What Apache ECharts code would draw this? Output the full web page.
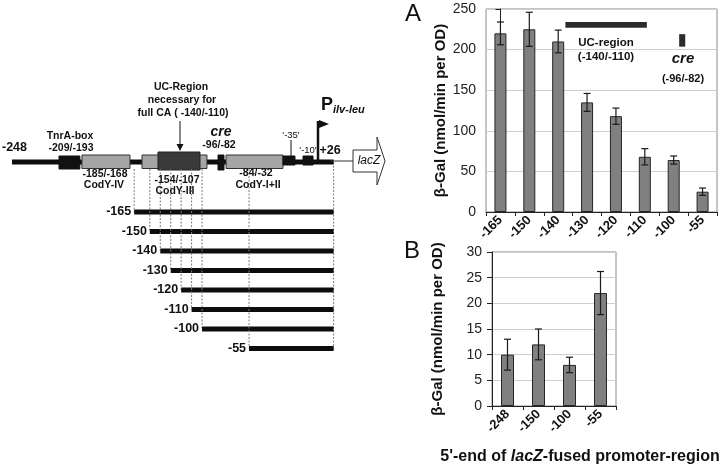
<!DOCTYPE html>
<html><head><meta charset="utf-8">
<script src="https://cdn.jsdelivr.net/npm/echarts@6/dist/echarts.min.js"></script>
<style>html,body{margin:0;padding:0;background:#fff}#c{width:720px;height:468px}</style>
</head><body><div id="c"></div>
<script>
// ---------- data ----------
const catsA = ['-165','-150','-140','-130','-120','-110','-100','-55'];
const valsA = [220, 225, 210, 135, 118, 68, 64, 25];
const errA  = [14, 21, 14, 11, 10, 10, 5, 4.5];
const catsB = ['-248','-150','-100','-55'];
const valsB = [10, 12, 8, 22];
const errB  = [3, 3, 1.5, 4.2];
const deletionStarts = [-165, -150, -140, -130, -120, -110, -100, -55];
const deletionLabels = ['-165','-150','-140','-130','-120','-110','-100','-55'];
const fusionEnd = 26;
// schematic promoter features (drawn positions along the schematic, not to scale)
const features = [
  {kind:'black', from:-237, to:-217},   // TnrA-box
  {kind:'grey',  from:-215, to:-169},   // CodY-IV
  {kind:'grey',  from:-157.5, to:-95.3},// CodY-III
  {kind:'dark',  from:-142.2, to:-102}, // UC-region
  {kind:'cre',   from:-84.7, to:-79},   // cre
  {kind:'grey',  from:-77, to:-22.5},   // CodY-I+II
  {kind:'box',   from:-22.5, to:-11},   // -35
  {kind:'box',   from:-3.3, to:6.3}     // -10
];
// annotations in panel A (category-index units)
const ucRegionA = [2.25, 5.07, 227, 234];
const creA = [6.19, 6.4, 203.6, 219];

const FONT = '"Liberation Sans", Arial, sans-serif';
const chart = echarts.init(document.getElementById('c'), null, {renderer:'canvas'});

const featStyle = {
  black:{y0:156, y1:169, fill:'#111', stroke:'#111'},
  grey: {y0:155, y1:168.5, fill:'#a5a5a5', stroke:'#333'},
  dark: {y0:152, y1:170, fill:'#3a3a3a', stroke:'#222'},
  cre:  {y0:155, y1:170, fill:'#111', stroke:'#111'},
  box:  {y0:156, y1:165, fill:'#111', stroke:'#111'}
};
const ROW0 = 212, ROWSTEP = 19.5;

function errRender(params, api){
  const x = api.value(0);
  const lo = api.coord([x, api.value(1)]);
  const hi = api.coord([x, api.value(2)]);
  const w = 3.5;
  const style = {stroke:'#1a1a1a', lineWidth:1.2};
  return {type:'group', children:[
    {type:'line', shape:{x1:lo[0],y1:lo[1],x2:hi[0],y2:hi[1]}, style},
    {type:'line', shape:{x1:lo[0]-w,y1:lo[1],x2:lo[0]+w,y2:lo[1]}, style},
    {type:'line', shape:{x1:hi[0]-w,y1:hi[1],x2:hi[0]+w,y2:hi[1]}, style}
  ]};
}

function bText(x, y, text, size, opts){
  return Object.assign({type:'text', x:x, y:y, style:Object.assign({text:text, font:(opts&&opts.font)||('bold '+size+'px '+FONT), fill:'#111', align:'center', verticalAlign:'middle'}, (opts&&opts.style)||{})}, {z:10});
}

const axisCommonY = (min,max,interval,gap) => ({
  type:'value', min:min, max:max, interval:interval,
  axisLine:{show:true, lineStyle:{color:'#222', width:1}},
  axisTick:{show:true, length:5, lineStyle:{color:'#222'}},
  axisLabel:{fontSize:14, color:'#222', margin:10, fontFamily:FONT},
  splitLine:{show:true, lineStyle:{color:'#cfcfcf', width:1}},
  name:'β-Gal (nmol/min per OD)', nameLocation:'middle', nameGap:gap,
  nameTextStyle:{fontWeight:'bold', fontSize:15, color:'#111', fontFamily:FONT}
});
const axisCommonX = (data) => ({
  type:'category', data:data,
  axisLine:{lineStyle:{color:'#222', width:1}},
  axisTick:{show:true, alignWithLabel:false, length:4, lineStyle:{color:'#222'}},
  axisLabel:{rotate:45, interval:0, fontWeight:'bold', fontSize:13, color:'#111', margin:6, fontFamily:FONT},
  splitLine:{show:false}
});

const option = {
  animation:false,
  textStyle:{fontFamily:FONT},
  grid:[
    {left:486, top:9, width:231, height:203, show:true, borderColor:'#8a8a8a', borderWidth:1, backgroundColor:'transparent'},
    {left:492, top:252, width:124, height:154, show:true, borderColor:'#8a8a8a', borderWidth:1, backgroundColor:'transparent'},
    {left:12, top:0, width:378, height:468}
  ],
  xAxis:[
    Object.assign(axisCommonX(catsA), {gridIndex:0}),
    Object.assign(axisCommonX(catsB), {gridIndex:1}),
    {type:'value', gridIndex:2, min:-282, max:80, show:false},
    {type:'value', gridIndex:0, min:-0.5, max:7.5, show:false}
  ],
  yAxis:[
    Object.assign(axisCommonY(0,250,50,37), {gridIndex:0}),
    Object.assign(axisCommonY(0,30,5,47), {gridIndex:1}),
    {type:'value', gridIndex:2, min:0, max:468, inverse:true, show:false}
  ],
  series:[
    {type:'bar', xAxisIndex:0, yAxisIndex:0, data:valsA, barWidth:12,
     itemStyle:{color:'#808080', borderColor:'#262626', borderWidth:1}},
    {type:'custom', xAxisIndex:0, yAxisIndex:0, z:3, renderItem:errRender,
     data:valsA.map((v,i)=>[i, v-errA[i], v+errA[i]])},
    {type:'bar', xAxisIndex:1, yAxisIndex:1, data:valsB, barWidth:13,
     itemStyle:{color:'#808080', borderColor:'#262626', borderWidth:1}},
    {type:'custom', xAxisIndex:1, yAxisIndex:1, z:3, renderItem:errRender,
     data:valsB.map((v,i)=>[i, v-errB[i], v+errB[i]])},
    // annotations inside panel A
    {type:'custom', xAxisIndex:3, yAxisIndex:0, z:4, clip:false,
     data:[ucRegionA, creA],
     renderItem:(p, api)=>{
       const a = api.coord([api.value(0), api.value(3)]);
       const b = api.coord([api.value(1), api.value(2)]);
       return {type:'rect', shape:{x:a[0], y:a[1], width:b[0]-a[0], height:b[1]-a[1]}, style:{fill:'#2b2b2b'}};
     }},
    // main promoter line
    {type:'custom', xAxisIndex:2, yAxisIndex:2, z:2, clip:false,
     data:[[-282, fusionEnd]],
     renderItem:(p, api)=>{
       const x0 = api.coord([api.value(0), 0])[0];
       const x1 = api.coord([api.value(1), 0])[0];
       return {type:'rect', shape:{x:x0, y:159.5, width:x1-x0, height:5}, style:{fill:'#0d0d0d'}};
     }},
    // promoter features
    {type:'custom', xAxisIndex:2, yAxisIndex:2, z:3, clip:false,
     data:features.map((f,i)=>[f.from, f.to, i]),
     renderItem:(p, api)=>{
       const f = features[api.value(2)];
       const st = featStyle[f.kind];
       const x0 = api.coord([api.value(0), 0])[0];
       const x1 = api.coord([api.value(1), 0])[0];
       return {type:'rect', shape:{x:x0, y:st.y0, width:x1-x0, height:st.y1-st.y0}, style:{fill:st.fill, stroke:st.stroke, lineWidth:1}};
     }},
    // deletion constructs + guides + labels
    {type:'custom', xAxisIndex:2, yAxisIndex:2, z:4, clip:false,
     data:deletionStarts.map((s,i)=>[s, fusionEnd, i]),
     renderItem:(p, api)=>{
       const i = api.value(2);
       const x0 = api.coord([api.value(0), 0])[0];
       const x1 = api.coord([api.value(1), 0])[0];
       const y = ROW0 + i*ROWSTEP;
       return {type:'group', children:[
         {type:'line', shape:{x1:x0, y1:169, x2:x0, y2:y}, style:{stroke:'#7a7a7a', lineWidth:1, lineDash:[2,1.5]}},
         {type:'rect', shape:{x:x0, y:y-2.5, width:x1-x0, height:5}, style:{fill:'#0d0d0d'}},
         {type:'text', x:x0-3, y:y, style:{text:deletionLabels[i], font:'bold 12.5px '+FONT, fill:'#111', align:'right', verticalAlign:'middle'}}
       ]};
     }},
    // guide at the fusion end
    {type:'custom', xAxisIndex:2, yAxisIndex:2, z:1, clip:false,
     data:[[fusionEnd, deletionStarts.length-1]],
     renderItem:(p, api)=>{
       const x = api.coord([api.value(0), 0])[0];
       const y = ROW0 + api.value(1)*ROWSTEP;
       return {type:'line', shape:{x1:x, y1:162, x2:x, y2:y+2}, style:{stroke:'#7a7a7a', lineWidth:1, lineDash:[2,1.5]}};
     }}
  ],
  graphic:[
    // panel letters
    bText(413, 14, 'A', 22, {font:'24px '+FONT}),
    bText(412, 251, 'B', 22, {font:'24px '+FONT}),
    // annotations in A
    bText(606, 43, 'UC-region', 11.5),
    bText(606, 57, '(-140/-110)', 11.5),
    bText(683, 59, 'cre', 15, {font:'italic bold 15px '+FONT}),
    bText(683, 79, '(-96/-82)', 11),
    // bottom title
    {type:'text', x:580, y:457, z:10, style:{
      text:"{b|5'-end of }{i|lacZ}{b|-fused promoter-region}", align:'center', verticalAlign:'middle',
      rich:{b:{font:'bold 16px '+FONT, fill:'#111'}, i:{font:'italic bold 16px '+FONT, fill:'#111'}}}},
    // schematic labels
    {type:'text', x:2, y:148, z:10, style:{text:'-248', font:'bold 12.5px '+FONT, fill:'#111', align:'left', verticalAlign:'middle'}},
    bText(70, 136, 'TnrA-box', 10.5),
    bText(71, 148, '-209/-193', 10.5),
    bText(105, 174, '-185/-168', 10.5),
    bText(104, 185, 'CodY-IV', 10.5),
    bText(177, 180, '-154/-107', 10.5),
    bText(175, 191, 'CodY-III', 10.5),
    bText(181, 87, 'UC-Region', 10.5),
    bText(182, 100, 'necessary for', 10.5),
    bText(183, 113, 'full CA ( -140/-110)', 10.5),
    {type:'line', z:10, shape:{x1:180, y1:121, x2:180, y2:147}, style:{stroke:'#111', lineWidth:1}},
    {type:'polygon', z:10, shape:{points:[[176.5,144],[183.5,144],[180,151]]}, style:{fill:'#111'}},
    bText(221, 132, 'cre', 14, {font:'italic bold 14px '+FONT}),
    bText(219, 145, '-96/-82', 10.5),
    bText(256, 173, '-84/-32', 10.5),
    bText(258, 185, 'CodY-I+II', 10.5),
    bText(291, 135, "'-35'", 9.5, {font:'9.5px '+FONT}),
    {type:'line', z:10, shape:{x1:291, y1:140, x2:291, y2:156}, style:{stroke:'#111', lineWidth:1}},
    bText(308, 150, "'-10'", 9.5, {font:'9.5px '+FONT}),
    bText(330, 151, '+26', 12.5),
    // promoter flag
    {type:'line', z:10, shape:{x1:318, y1:121, x2:318, y2:161}, style:{stroke:'#111', lineWidth:2.5}},
    {type:'polygon', z:10, shape:{points:[[319,120],[329,124],[319,128]]}, style:{fill:'#111'}},
    {type:'text', x:321, y:105, z:10, style:{text:'P', font:'bold 18px '+FONT, fill:'#111', align:'left', verticalAlign:'middle'}},
    {type:'text', x:333, y:110, z:10, style:{text:'ilv-leu', font:'italic bold 11px '+FONT, fill:'#111', align:'left', verticalAlign:'middle'}},
    // lacZ
    {type:'line', z:10, shape:{x1:330, y1:161, x2:353, y2:161}, style:{stroke:'#333', lineWidth:1}},
    {type:'polygon', z:10, shape:{points:[[353,150],[377,150],[377,137],[385,161],[377,185],[377,172],[353,172]]}, style:{fill:'#fff', stroke:'#333', lineWidth:1}},
    {type:'text', x:369, y:161, z:11, style:{text:'lacZ', font:'italic 12px '+FONT, fill:'#111', align:'center', verticalAlign:'middle'}}
  ]
};
chart.setOption(option);
</script></body></html>
